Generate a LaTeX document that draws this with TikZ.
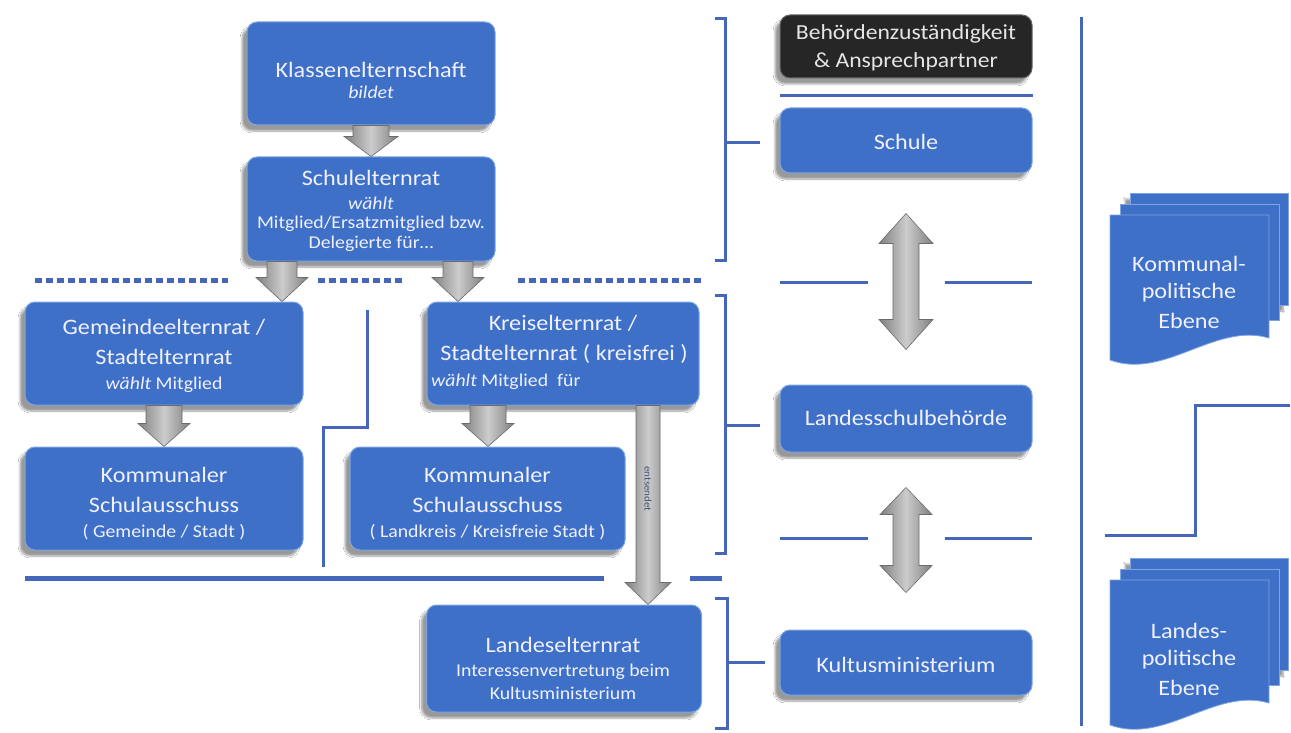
\documentclass[tikz,border=0pt]{standalone}
\usepackage{fontspec}
\setmainfont{Carlito}[FakeStretch=1.1]
\usetikzlibrary{calc,shadows,shadows.blur}
\definecolor{boxblue}{RGB}{62,112,200}
\definecolor{boxedge}{RGB}{125,165,228}
\definecolor{lineblue}{RGB}{70,102,186}
\definecolor{darkbox}{RGB}{38,38,38}
\definecolor{arrowtxt}{RGB}{70,80,120}
\newcommand\fT{\fontsize{22}{26}\selectfont}
\newcommand\fS{\fontsize{18}{21}\selectfont}
\newcommand\barrow[5]{%
  \path[garrow] let \p1=(#1), \p2=(#2) in
   (\x1-#3,\y1) -- (\x1+#3,\y1) -- (\x1+#3,\y2+#5) -- (\x1+#4,\y2+#5) -- (\x1,\y2)
   -- (\x1-#4,\y2+#5) -- (\x1-#3,\y2+#5) -- cycle;}
\newcommand\dbarrow[5]{%
  \path[garrow] let \p1=(#1), \p2=(#2) in
   (\x1,\y1) -- (\x1+#4,\y1-#5) -- (\x1+#3,\y1-#5) -- (\x1+#3,\y2+#5) -- (\x1+#4,\y2+#5)
   -- (\x1,\y2) -- (\x1-#4,\y2+#5) -- (\x1-#3,\y2+#5) -- (\x1-#3,\y1-#5) -- (\x1-#4,\y1-#5) -- cycle;}
\tikzset{
  shd/.style={blur shadow={shadow xshift=-5pt, shadow yshift=-6pt, shadow blur steps=6, shadow opacity=40}},
  bbox/.style={rounded corners=10pt, fill=boxblue, draw=boxedge, line width=1pt, shd, inner sep=0pt},
  dbox/.style={rounded corners=10pt, fill=darkbox, draw=black!60, line width=1pt, shd, inner sep=0pt},
  page/.style={fill=boxblue, draw=boxedge, line width=0.8pt},
  txt/.style={text=white!94!blue, inner sep=0pt, font=\fT},
  stxt/.style={text=white!94!blue, inner sep=0pt, font=\fS},
  garrow/.style={left color=black!50, right color=black!50, middle color=black!20, draw=black!58, line width=0.6pt},
  bline/.style={draw=lineblue, line width=3pt},
  hline/.style={draw=lineblue, line width=5pt},
  dotline/.style={draw=lineblue, line width=5pt, dash pattern=on 7pt off 4pt},
}
\begin{document}
\begin{tikzpicture}[x=1pt,y=-1pt]
\useasboundingbox[fill=white] (0,0) rectangle (1291,733);

% separator lines
\draw[dotline] (35,280) -- (228,280);
\draw[dotline] (318,280) -- (405,280);
\draw[dotline] (518,280) -- (703,280);
\draw[hline] (25,578) -- (604,578);
\draw[hline] (690,578) -- (722,578);
\draw[bline] (367,310) -- (367,427) -- (323,427) -- (323,567);

% left column boxes
\node[bbox, minimum width=248pt, minimum height=103pt] (kl) at (371,73.5) {};
\node[bbox, minimum width=248pt, minimum height=104pt] (se) at (371,209) {};
\node[bbox, minimum width=278pt, minimum height=103pt] (ge) at (164,353.5) {};
\node[bbox, minimum width=272pt, minimum height=103pt] (ke) at (563,353.5) {};
\node[bbox, minimum width=278pt, minimum height=103pt] (kg) at (164,498.5) {};
\node[bbox, minimum width=275pt, minimum height=103pt] (kk) at (487.5,498.5) {};
\node[bbox, minimum width=275pt, minimum height=107pt] (le) at (564,658.5) {};

% right column boxes
\node[dbox, minimum width=252pt, minimum height=63pt] (beh) at (906,46.5) {};
\node[bbox, minimum width=252pt, minimum height=65pt] (sch) at (906,140.5) {};
\node[bbox, minimum width=252pt, minimum height=67pt] (lsb) at (906,418.5) {};
\node[bbox, minimum width=252pt, minimum height=65pt] (km) at (906,662.5) {};

% block arrows
\barrow{kl.south}{se.north}{18pt}{27pt}{20pt}
\barrow{[xshift=-89pt]se.south}{[xshift=-89pt]se.south |- ge.north}{15pt}{26pt}{24pt}
\barrow{[xshift=87pt]se.south}{[xshift=87pt]se.south |- ke.north}{15pt}{26pt}{24pt}
\barrow{ge.south}{kg.north}{18pt}{26pt}{23pt}
\barrow{[xshift=-75pt]ke.south}{[xshift=-75pt]ke.south |- kk.north}{18pt}{26pt}{23pt}
\barrow{[xshift=85pt]ke.south}{[xshift=85pt]ke.south |- le.north}{12pt}{23pt}{22pt}
\node[rotate=-90, text=arrowtxt, font=\fontsize{10}{12}\selectfont, inner sep=0pt] (ent) at (648,489) {entsendet};
\dbarrow{[yshift=-40pt]sch.south}{[yshift=35pt]lsb.north}{13pt}{27pt}{30pt}
\dbarrow{[yshift=-35pt]lsb.south}{[yshift=37pt]km.north}{13pt}{26pt}{27pt}

% texts left
\node[txt] (kl1) at (371,70) {Klassenelternschaft};
\node[stxt] (kl2) at (371,92) {\itshape bildet};
\node[txt] (se1) at (371,178) {Schulelternrat};
\node[stxt] (se2) at (371,203) {\itshape wählt};
\node[stxt] (se3) at (371,224) {Mitglied/Ersatzmitglied bzw.};
\node[stxt] (se4) at (371,244) {Delegierte für…};
\node[txt] (ge1) at (164,327) {Gemeindeelternrat /};
\node[txt] (ge2) at (164,357) {Stadtelternrat};
\node[stxt] (ge3) at (164,385) {\textit{wählt} Mitglied};
\node[txt] (ke1) at (563,323) {Kreiselternrat /};
\node[txt] (ke2) at (564,354) {Stadtelternrat ( kreisfrei )};
\node[stxt, anchor=west] (ke3) at (431,382) {\textit{wählt} Mitglied\ \ für};
\node[txt] (kg1) at (164,475) {Kommunaler};
\node[txt] (kg2) at (164,505) {Schulausschuss};
\node[stxt] (kg3) at (164,532) {( Gemeinde / Stadt )};
\node[txt] (kk1) at (487.5,475) {Kommunaler};
\node[txt] (kk2) at (487.5,505) {Schulausschuss};
\node[stxt] (kk3) at (487.5,532) {( Landkreis / Kreisfreie Stadt )};
\node[txt] (le1) at (563,645) {Landeselternrat};
\node[stxt] (le2) at (563,672) {Interessenvertretung beim};
\node[stxt] (le3) at (563,693) {Kultusministerium};

% texts right
\node[txt, text=white!90!black, font=\fontsize{21.5}{26}\selectfont] (beh1) at (906,34) {Behördenzuständigkeit};
\node[txt, text=white!90!black, font=\fontsize{21.5}{26}\selectfont] (beh2) at (906,62) {\& Ansprechpartner};
\node[txt] (sch1) at (906,142) {Schule};
\node[txt] (lsb1) at (906,418) {Landesschulbehörde};
\node[txt] (km1) at (906,665) {Kultusministerium};

% lines right
\draw[bline] (780,96) -- (1033,96);
\draw[bline] (780,282) -- (868,282);
\draw[bline] (945,282) -- (1032,282);
\draw[bline] (780,538) -- (868,538);
\draw[bline] (945,538) -- (1032,538);
\draw[bline] (1081,17) -- (1081,726);
\draw[bline] (1290,405) -- (1195,405) -- (1195,535) -- (1105,535);

% brackets
\draw[bline] (715,19) -- (725,19) -- (725,260) -- (715,260);
\draw[bline] (725,143) -- (760,143);
\draw[bline] (715,295) -- (725,295) -- (725,553) -- (715,553);
\draw[bline] (725,425) -- (760,425);
\draw[bline] (715,598) -- (727,598) -- (727,728) -- (715,728);
\draw[bline] (727,662) -- (765,662);

% multi-document shapes
\foreach \dy in {0,365}{
  \begin{scope}[yshift=-\dy pt]
    \path[page, shd] (1130,193) rectangle (1288,305);
    \path[page] (1120,204) rectangle (1279,320);
    \path[page] (1110,215) -- (1269,215) -- (1269,338) .. controls (1215,322) and (1165,380) .. (1110,360) -- cycle;
  \end{scope}
}
\node[txt] (kp1) at (1189,264) {Kommunal-};
\node[txt] (kp2) at (1189,293) {politische};
\node[txt] (kp3) at (1189,321) {Ebene};
\node[txt] (lp1) at (1189,631) {Landes-};
\node[txt] (lp2) at (1189,660) {politische};
\node[txt] (lp3) at (1189,688) {Ebene};
\end{tikzpicture}
\end{document}
